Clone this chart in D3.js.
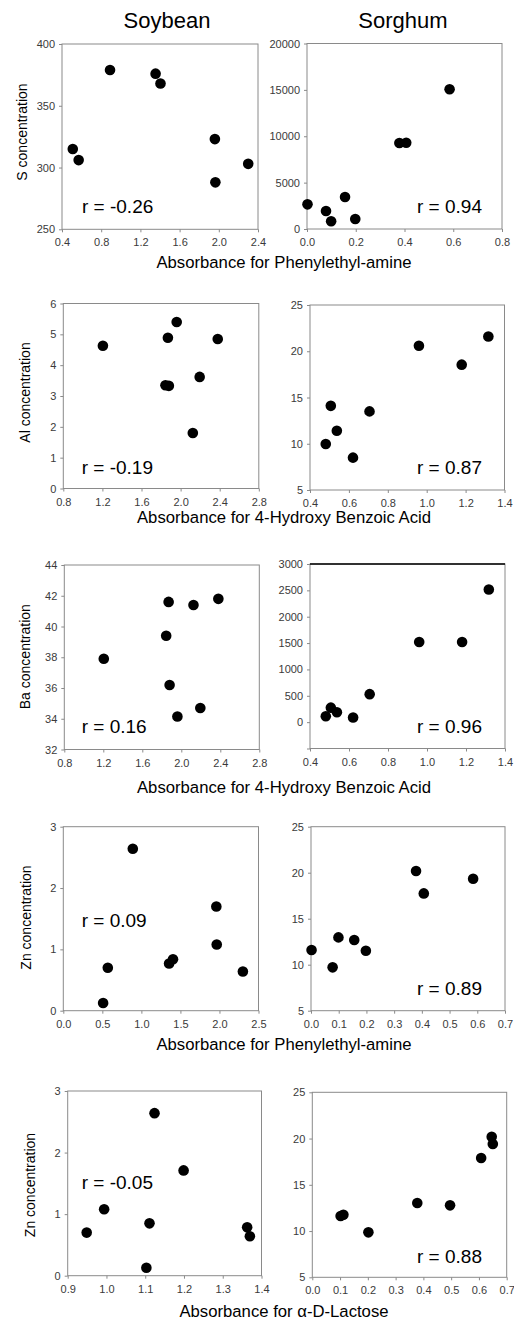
<!DOCTYPE html>
<html>
<head>
<meta charset="utf-8">
<script src="https://cdn.jsdelivr.net/npm/d3@7/dist/d3.min.js"></script>
<style>
  html, body { margin: 0; padding: 0; background: #fff; }
  svg { display: block; }
  text { font-family: "Liberation Sans", Arial, Helvetica, sans-serif; }
</style>
</head>
<body>
<svg id="chart" width="514" height="1322"></svg>
<script>
// ---------- DATA ----------
const columnTitles = ["Soybean", "Sorghum"];

// Soybean, absorbance for Phenylethyl-amine
const soyPhenyl = [0.51, 0.57, 0.89, 1.355, 1.405, 1.96, 1.965, 2.30];
const soyS      = [315, 306, 379, 376, 368, 323, 288, 303];
const soyZnA    = [0.125, 0.70, 2.64, 0.77, 0.84, 1.70, 1.08, 0.64];

// Sorghum, absorbance for Phenylethyl-amine
const sorPhenyl = [0.002, 0.078, 0.099, 0.156, 0.198, 0.379, 0.407, 0.585];
const sorS      = [2660, 1940, 830, 3450, 1080, 9280, 9300, 15070];
const sorZnA    = [11.6, 9.71, 12.97, 12.68, 11.52, 20.18, 17.75, 19.35];

// Soybean, absorbance for 4-Hydroxy Benzoic Acid
const soyHydroxy = [1.205, 1.96, 1.87, 2.38, 2.195, 1.845, 1.88, 2.125];
const soyAl      = [4.63, 5.40, 4.89, 4.85, 3.62, 3.35, 3.33, 1.80];
const soyBa      = [37.9, 34.15, 41.6, 41.8, 34.7, 39.4, 36.2, 41.4];

// Sorghum, absorbance for 4-Hydroxy Benzoic Acid
const sorHydroxy = [0.96, 1.317, 1.18, 0.507, 0.706, 0.538, 0.481, 0.621];
const sorAl      = [20.6, 21.6, 18.55, 14.1, 13.5, 11.4, 9.97, 8.5];
const sorBa      = [1520, 2515, 1520, 275, 531, 187, 112, 88];

// Absorbance for alpha-D-Lactose
const soyLactose = [1.124, 1.199, 0.994, 0.949, 1.111, 1.103, 1.363, 1.370];
const soyZnB     = [2.64, 1.71, 1.08, 0.70, 0.85, 0.13, 0.785, 0.64];
const sorLactose = [0.102, 0.112, 0.202, 0.378, 0.496, 0.608, 0.646, 0.650];
const sorZnB     = [11.63, 11.76, 9.86, 13.04, 12.78, 17.9, 20.2, 19.41];

// correlation labels
const rLabels = ["r = -0.26", "r = 0.94", "r = -0.19", "r = 0.87", "r = 0.16",
                 "r = 0.96", "r = 0.09", "r = 0.89", "r = -0.05", "r = 0.88"];

// axis titles
const xTitles = ["Absorbance for Phenylethyl-amine", "Absorbance for 4-Hydroxy Benzoic Acid",
                 "Absorbance for 4-Hydroxy Benzoic Acid", "Absorbance for Phenylethyl-amine",
                 "Absorbance for \u03B1-D-Lactose"];
const yTitles = ["S concentration", "Al concentration", "Ba concentration",
                 "Zn concentration", "Zn concentration"];

// tick values
const xTicksSoyPhenyl  = [0.4, 0.8, 1.2, 1.6, 2.0, 2.4];
const xTicksSorPhenyl  = [0.0, 0.2, 0.4, 0.6, 0.8];
const xTicksSoyHydroxy = [0.8, 1.2, 1.6, 2.0, 2.4, 2.8];
const xTicksSorHydroxy = [0.4, 0.6, 0.8, 1.0, 1.2, 1.4];
const xTicksSoyPhenyl2 = [0.0, 0.5, 1.0, 1.5, 2.0, 2.5];
const xTicksSor7       = [0.0, 0.1, 0.2, 0.3, 0.4, 0.5, 0.6, 0.7];
const xTicksSoyLactose = [0.9, 1.0, 1.1, 1.2, 1.3, 1.4];

const yTicksSoyS  = [250, 300, 350, 400];
const yTicksSorS  = [0, 5000, 10000, 15000, 20000];
const yTicksSoyAl = [0, 1, 2, 3, 4, 5, 6];
const yTicks5to25 = [5, 10, 15, 20, 25];
const yTicksSoyBa = [32, 34, 36, 38, 40, 42, 44];
const yTicksSorBa = [-500, 0, 500, 1000, 1500, 2000, 2500, 3000];
const yTicksZn3   = [0, 1, 2, 3];

// ---------- LAYOUT ----------
const panels = [
  { xs: soyPhenyl, ys: soyS, xd: [0.4, 2.4], yd: [250, 400], xt: xTicksSoyPhenyl, yt: yTicksSoyS,
    box: [62, 44, 258, 229.3], r: rLabels[0], rp: [82, 213.3] },
  { xs: sorPhenyl, ys: sorS, xd: [0, 0.8], yd: [0, 20000], xt: xTicksSorPhenyl, yt: yTicksSorS,
    box: [307, 43.5, 502, 229], r: rLabels[1], rp: [417, 213.3] },
  { xs: soyHydroxy, ys: soyAl, xd: [0.8, 2.8], yd: [0, 6], xt: xTicksSoyHydroxy, yt: yTicksSoyAl,
    box: [63.3, 303.5, 258.8, 488.5], r: rLabels[2], rp: [81.7, 474] },
  { xs: sorHydroxy, ys: sorAl, xd: [0.4, 1.4], yd: [5, 25], xt: xTicksSorHydroxy, yt: yTicks5to25,
    box: [310, 305, 504.5, 490], r: rLabels[3], rp: [417, 474] },
  { xs: soyHydroxy, ys: soyBa, xd: [0.8, 2.8], yd: [32, 44], xt: xTicksSoyHydroxy, yt: yTicksSoyBa,
    box: [64.3, 565, 259.3, 749.5], r: rLabels[4], rp: [81.7, 732.7] },
  { xs: sorHydroxy, ys: sorBa, xd: [0.4, 1.4], yd: [-500, 3000], xt: xTicksSorHydroxy, yt: yTicksSorBa,
    box: [310, 564, 505, 748.5], r: rLabels[5], rp: [417, 732.7], topDark: true, hideLabel: -500 },
  { xs: soyPhenyl, ys: soyZnA, xd: [0, 2.5], yd: [0, 3], xt: xTicksSoyPhenyl2, yt: yTicksZn3,
    box: [63.3, 826.7, 258.5, 1010.7], r: rLabels[6], rp: [81.7, 927.3] },
  { xs: sorPhenyl, ys: sorZnA, xd: [0, 0.7], yd: [5, 25], xt: xTicksSor7, yt: yTicks5to25,
    box: [311, 826.7, 505, 1010.7], r: rLabels[7], rp: [417, 995] },
  { xs: soyLactose, ys: soyZnB, xd: [0.9, 1.4], yd: [0, 3], xt: xTicksSoyLactose, yt: yTicksZn3,
    box: [67.7, 1091, 261.5, 1275.7], r: rLabels[8], rp: [81.7, 1189] },
  { xs: sorLactose, ys: sorZnB, xd: [0, 0.7], yd: [5, 25], xt: xTicksSor7, yt: yTicks5to25,
    box: [312.3, 1092.3, 506.7, 1277.3], r: rLabels[9], rp: [417, 1263.3] }
];

const rowXTitle = [ [284, 268], [284, 523], [284, 793], [284, 1050], [284, 1317] ];
const rowYTitle = [ [22, 132], [25, 392.5], [25, 656.7], [26, 917.5], [30, 1185] ];
const colTitlePos = [ [167, 28.3], [403, 28.3] ];

const FRAME = "#8a8a8a";
const TICKTXT = "#3a3a3a";

// ---------- DRAW ----------
const svg = d3.select("#chart");

columnTitles.forEach((t, i) => {
  svg.append("text").attr("x", colTitlePos[i][0]).attr("y", colTitlePos[i][1])
    .attr("text-anchor", "middle").attr("font-size", 22).attr("fill", "#000").text(t);
});

panels.forEach((p) => {
  const [x0, y0, x1, y1] = p.box;
  const xs = d3.scaleLinear().domain(p.xd).range([x0, x1]);
  const ys = d3.scaleLinear().domain(p.yd).range([y1, y0]);
  const g = svg.append("g");

  // frame
  g.append("rect").attr("x", x0).attr("y", y0).attr("width", x1 - x0).attr("height", y1 - y0)
    .attr("fill", "none").attr("stroke", FRAME).attr("stroke-width", 1);
  if (p.topDark) {
    g.append("line").attr("x1", x0).attr("x2", x1).attr("y1", y0).attr("y2", y0)
      .attr("stroke", "#000").attr("stroke-width", 1.3);
  }

  // axes
  const fx = d3.format(".1f");
  const ax = g.append("g").attr("transform", `translate(0,${y1})`)
    .call(d3.axisBottom(xs).tickValues(p.xt).tickFormat(fx).tickSizeInner(3).tickSizeOuter(0).tickPadding(6.2));
  const ay = g.append("g").attr("transform", `translate(${x0},0)`)
    .call(d3.axisLeft(ys).tickValues(p.yt)
      .tickFormat(v => (p.hideLabel !== undefined && v === p.hideLabel) ? "" : d3.format("d")(v))
      .tickSizeInner(3).tickSizeOuter(0).tickPadding(4));
  [ax, ay].forEach(a => {
    a.select(".domain").remove();
    a.selectAll(".tick line").attr("stroke", FRAME);
    a.selectAll(".tick text").attr("fill", TICKTXT).attr("font-size", 11)
      .style("font-family", "'Liberation Sans', Arial, sans-serif");
  });

  // points
  g.selectAll("circle.pt").data(p.xs.map((v, i) => [v, p.ys[i]])).enter()
    .append("circle").attr("class", "pt")
    .attr("cx", d => xs(d[0])).attr("cy", d => ys(d[1])).attr("r", 5.3).attr("fill", "#000");

  // r label
  g.append("text").attr("x", p.rp[0]).attr("y", p.rp[1]).attr("font-size", 19)
    .attr("fill", "#000").text(p.r);
});

xTitles.forEach((t, i) => {
  svg.append("text").attr("x", rowXTitle[i][0]).attr("y", rowXTitle[i][1])
    .attr("text-anchor", "middle").attr("font-size", 16.7).attr("fill", "#000").text(t);
});
yTitles.forEach((t, i) => {
  svg.append("text")
    .attr("transform", `translate(${rowYTitle[i][0]},${rowYTitle[i][1]}) rotate(-90)`)
    .attr("text-anchor", "middle").attr("dy", "0.35em").attr("font-size", 14).attr("fill", "#000").text(t);
});
</script>
</body>
</html>
